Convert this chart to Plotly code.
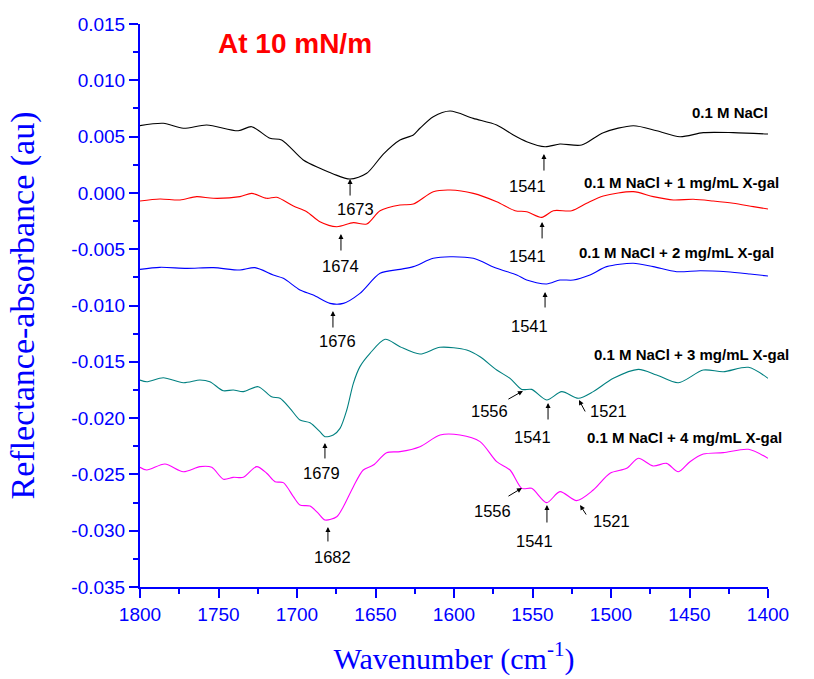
import plotly.graph_objects as go

# ---------------- data ----------------
wn_nacl = [1800, 1785.1, 1772.4, 1757.5, 1737.4, 1728.9, 1717.2, 1709.8, 1696.0, 1685.4, 1676.9, 1666.2,
           1655.6, 1645.0, 1634.4, 1625.9, 1621.7, 1613.2, 1602.5, 1587.7, 1572.8, 1562.2, 1553.7, 1542.0,
           1532.5, 1518.7, 1504.9, 1485.8, 1470.9, 1456.1, 1441.2, 1422.1, 1400]
ab_nacl = [0.00597, 0.00618, 0.00574, 0.00603, 0.00552, 0.00588, 0.00485, 0.00470, 0.00292, 0.00218, 0.00168, 0.00123,
           0.00174, 0.00345, 0.00470, 0.00514, 0.00574, 0.00677, 0.00727, 0.00662, 0.00603, 0.00514, 0.00455, 0.00410,
           0.00434, 0.00425, 0.00535, 0.00597, 0.00552, 0.00499, 0.00535, 0.00535, 0.00523]

wn_x1 = [1800, 1787.3, 1774.5, 1763.9, 1753.3, 1736.3, 1728.9, 1719.3, 1712.9, 1702.3, 1693.8, 1685.4, 1674.7,
         1664.1, 1655.6, 1647.1, 1634.4, 1625.9, 1613.2, 1602.5, 1587.7, 1572.8, 1561.1, 1553.7, 1544.1, 1536.7,
         1525.0, 1515.5, 1504.9, 1485.8, 1473.1, 1460.3, 1447.6, 1434.9, 1422.1, 1409.4, 1400]
ab_x1 = [-0.00072, -0.00054, -0.00063, -0.00033, -0.00048, -0.00033, -0.00004, -0.00048, -0.00039, -0.00116, -0.00167,
         -0.00256, -0.00300, -0.00264, -0.00276, -0.00158, -0.00107, -0.00099, 0.00011, 0.00026, -0.00004, -0.00078,
         -0.00158, -0.00167, -0.00217, -0.00158, -0.00158, -0.00092, -0.00028, 0.00011, -0.00033, -0.00063, -0.00057,
         -0.00072, -0.00092, -0.00122, -0.00143]

wn_x2 = [1800, 1787.3, 1770.3, 1753.3, 1736.3, 1726.8, 1715.1, 1708.7, 1698.1, 1689.6, 1679.0, 1670.5, 1659.9,
         1647.1, 1634.4, 1625.9, 1613.2, 1602.5, 1587.7, 1572.8, 1560.0, 1553.7, 1541.0, 1532.5, 1524.0, 1513.4,
         1502.8, 1485.8, 1473.1, 1458.2, 1443.3, 1426.3, 1411.5, 1400]
ab_x2 = [-0.00679, -0.00661, -0.00670, -0.00664, -0.00685, -0.00664, -0.00729, -0.00758, -0.00862, -0.00907, -0.00981,
         -0.00981, -0.00892, -0.00714, -0.00679, -0.00655, -0.00581, -0.00567, -0.00581, -0.00670, -0.00729, -0.00774,
         -0.00809, -0.00774, -0.00774, -0.00729, -0.00655, -0.00625, -0.00655, -0.00700, -0.00691, -0.00700, -0.00720,
         -0.00738]

wn_x3 = [1800, 1795.7, 1785.2, 1772.4, 1761.8, 1755.5, 1746.9, 1740.6, 1734.2, 1724.7, 1716.2, 1710.8, 1704.5,
         1698.1, 1691.7, 1685.4, 1682.2, 1676.9, 1672.6, 1668.3, 1664.1, 1659.9, 1653.5, 1643.9, 1634.4, 1621.7,
         1608.9, 1591.9, 1583.4, 1572.8, 1564.3, 1556.8, 1550.5, 1541.0, 1531.4, 1520.8, 1511.3, 1498.5, 1482.6,
         1470.9, 1457.1, 1441.2, 1428.5, 1412.5, 1400]
ab_x3 = [-0.01662, -0.01677, -0.01641, -0.01686, -0.01662, -0.01677, -0.01757, -0.01750, -0.01765, -0.01721, -0.01810,
         -0.01824, -0.01913, -0.02017, -0.02041, -0.02121, -0.02165, -0.02150, -0.02091, -0.01928, -0.01691, -0.01543,
         -0.01425, -0.01300, -0.01366, -0.01431, -0.01371, -0.01395, -0.01455, -0.01573, -0.01647, -0.01745, -0.01745,
         -0.01839, -0.01765, -0.01824, -0.01765, -0.01647, -0.01567, -0.01617, -0.01686, -0.01573, -0.01588, -0.01549,
         -0.01647]

wn_x4 = [1800, 1795.7, 1784.1, 1772.4, 1761.8, 1754.3, 1746.9, 1740.6, 1734.2, 1725.7, 1719.3, 1714.0, 1708.7,
         1702.3, 1698.1, 1691.7, 1686.4, 1682.2, 1674.7, 1670.5, 1664.1, 1657.8, 1651.4, 1642.9, 1634.4, 1621.7,
         1608.9, 1596.2, 1583.4, 1572.8, 1564.3, 1556.8, 1550.5, 1541.0, 1532.5, 1521.9, 1511.3, 1500.6, 1490.0,
         1482.6, 1473.1, 1464.6, 1457.1, 1449.7, 1441.2, 1428.5, 1412.5, 1400]
ab_x4 = [-0.02437, -0.02461, -0.02408, -0.02476, -0.02431, -0.02437, -0.02543, -0.02526, -0.02526, -0.02431, -0.02490,
         -0.02565, -0.02573, -0.02698, -0.02772, -0.02781, -0.02846, -0.02905, -0.02876, -0.02787, -0.02609, -0.02461,
         -0.02417, -0.02307, -0.02298, -0.02254, -0.02150, -0.02150, -0.02209, -0.02387, -0.02461, -0.02624, -0.02624,
         -0.02751, -0.02653, -0.02733, -0.02639, -0.02490, -0.02446, -0.02357, -0.02425, -0.02402, -0.02476, -0.02387,
         -0.02319, -0.02307, -0.02277, -0.02357]

series_names = ["0.1 M NaCl", "0.1 M NaCl + 1 mg/mL X-gal", "0.1 M NaCl + 2 mg/mL X-gal",
                "0.1 M NaCl + 3 mg/mL X-gal", "0.1 M NaCl + 4 mg/mL X-gal"]
series_colors = ["#000000", "#FF0000", "#0000FF", "#008080", "#FF00FF"]
# series label anchor (left edge) in data units
label_x = [1449.7, 1518.5, 1521.7, 1512.1, 1516.6]
label_y = [0.00710, 0.00088, -0.00525, -0.01431, -0.02168]

# peak marks: text, arrow tip (x, y), arrow tail offset (px), label position (x, y)
peak_text = ["1673", "1674", "1541", "1541", "1676", "1541", "1679", "1682",
             "1556", "1541", "1521", "1556", "1541", "1521"]
peak_x = [1666.2, 1672.0, 1542.7, 1543.9, 1677.1, 1542.0, 1682.2, 1680.3,
          1556.1, 1540.1, 1520.4, 1556.7, 1540.8, 1519.7]
peak_y = [0.00123, -0.00365, 0.00345, -0.00258, -0.01049, -0.00880, -0.02221, -0.02967,
          -0.01759, -0.01866, -0.01839, -0.02621, -0.02772, -0.02772]
peak_ax = [0, 0, 0, 0, 0, 0, 0, 0, -16, 0, 7, -15, 0, 7]
peak_ay = [18, 18, 18, 18, 18, 17, 17, 16, 9, 18, 13, 9, 19, 11]
peak_lx = [1663.0, 1672.6, 1553.5, 1553.5, 1673.9, 1551.6, 1684.1, 1677.1,
           1577.1, 1550.3, 1501.3, 1575.2, 1549.0, 1500.0]
peak_ly = [-0.00143, -0.00649, 0.00061, -0.00560, -0.01315, -0.01182, -0.02488, -0.03234,
           -0.01937, -0.02168, -0.01937, -0.02825, -0.03092, -0.02914]

x_ticks = [1800, 1750, 1700, 1650, 1600, 1550, 1500, 1450, 1400]
y_ticks = [0.015, 0.010, 0.005, 0.000, -0.005, -0.010, -0.015, -0.020, -0.025, -0.030, -0.035]
y_ticktext = ["0.015", "0.010", "0.005", "0.000", "-0.005", "-0.010", "-0.015",
              "-0.020", "-0.025", "-0.030", "-0.035"]

# ---------------- figure ----------------
fig = go.Figure()
all_x = [wn_nacl, wn_x1, wn_x2, wn_x3, wn_x4]
all_y = [ab_nacl, ab_x1, ab_x2, ab_x3, ab_x4]
for xs, ys, c, n in zip(all_x, all_y, series_colors, series_names):
    fig.add_trace(go.Scatter(x=xs, y=ys, mode="lines", name=n,
                             line=dict(color=c, width=1.1, shape="spline", smoothing=0.8),
                             showlegend=False, hoverinfo="x+y"))

ann = []
for n, lx, ly in zip(series_names, label_x, label_y):
    ann.append(dict(x=lx, y=ly, xref="x", yref="y", text="<b>%s</b>" % n, showarrow=False,
                    xanchor="left", yanchor="middle",
                    font=dict(family="Liberation Sans, Arial", size=15, color="black")))
for t, px, py, ax, ay, lx, ly in zip(peak_text, peak_x, peak_y, peak_ax, peak_ay, peak_lx, peak_ly):
    ann.append(dict(x=px, y=py, xref="x", yref="y", text="", showarrow=True, ax=ax, ay=ay,
                    arrowhead=2, arrowsize=1, arrowwidth=1, arrowcolor="black", standoff=0))
    ann.append(dict(x=lx, y=ly, xref="x", yref="y", text=t, showarrow=False,
                    xanchor="center", yanchor="middle",
                    font=dict(family="Liberation Sans, Arial", size=16.5, color="black")))
ann.append(dict(x=1701.3, y=0.01331, xref="x", yref="y", text="<b>At 10 mN/m</b>", showarrow=False,
                xanchor="center", yanchor="middle",
                font=dict(family="Liberation Sans, Arial", size=28, color="#FF0000")))

axis_common = dict(showline=True, linecolor="#0000FF", linewidth=2, mirror=False,
                   ticks="outside", ticklen=9, tickwidth=2, tickcolor="#0000FF",
                   showgrid=False, zeroline=False, automargin=False,
                   tickfont=dict(family="Liberation Sans, Arial", size=19, color="#0000FF"))

fig.update_layout(
    width=814, height=679,
    margin=dict(l=140, r=46, t=24, b=92),
    paper_bgcolor="white", plot_bgcolor="white",
    annotations=ann,
    xaxis=dict(range=[1800, 1400], tickvals=x_ticks, ticktext=[str(v) for v in x_ticks],
               minor=dict(dtick=25, ticks="outside", ticklen=5, tickwidth=2, tickcolor="#0000FF"),
               title=dict(text="Wavenumber (cm<sup>-1</sup>)", standoff=24,
                          font=dict(family="Liberation Serif, Times New Roman", size=30, color="#0000FF")),
               **axis_common),
    yaxis=dict(range=[-0.035, 0.015], tickvals=y_ticks, ticktext=y_ticktext,
               minor=dict(tickvals=[v + 0.0025 for v in y_ticks[1:]], ticks="outside", ticklen=5,
                          tickwidth=2, tickcolor="#0000FF"),
               title=dict(text="Reflectance-absorbance (au)", standoff=26,
                          font=dict(family="Liberation Serif, Times New Roman", size=34, color="#0000FF")),
               **axis_common),
)

fig.write_html("out.html", config={"displayModeBar": False},
               post_script="document.body.style.margin='0';")
